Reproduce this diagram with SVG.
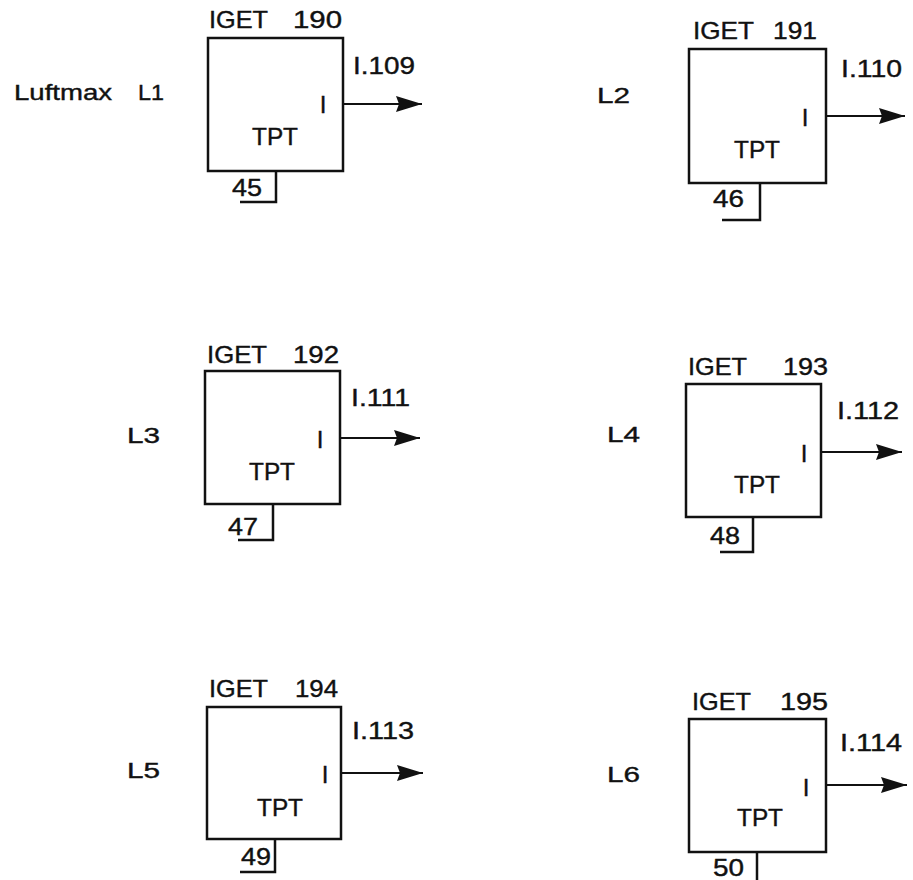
<svg xmlns="http://www.w3.org/2000/svg" width="913" height="880" viewBox="0 0 913 880">
<style>
text{font-family:"Liberation Sans",Arial,sans-serif;font-size:24px;fill:#111;stroke:#111;stroke-width:0.4}
.lab{font-size:22px}
.mid{text-anchor:middle}
.box{fill:none;stroke:#111;stroke-width:2.5}
.br{fill:none;stroke:#111;stroke-width:2.5}
.arr{fill:none;stroke:#111;stroke-width:2.2}
</style>
<defs>
<marker id="ah" viewBox="0 0 26 16" refX="26" refY="8" markerWidth="26" markerHeight="16" markerUnits="userSpaceOnUse" orient="auto">
<path d="M0,0 L26,8 L0,16 L3,8 z" fill="#111"/>
</marker>
</defs>
<rect width="913" height="880" fill="#fff"/>

<g id="node-190">
<rect class="box" x="208" y="38" width="135" height="133"/>
<path class="br" d="M276,171 V202 H240"/>
<text x="232" y="196" textLength="30" lengthAdjust="spacingAndGlyphs">45</text>
<text x="209" y="28" textLength="59" lengthAdjust="spacingAndGlyphs">IGET</text>
<text x="293" y="28" textLength="49" lengthAdjust="spacingAndGlyphs">190</text>
<text x="353" y="74" textLength="62" lengthAdjust="spacingAndGlyphs">I.109</text>
<text class="mid" x="323" y="113">I</text>
<text class="mid" x="275" y="145" textLength="46" lengthAdjust="spacingAndGlyphs">TPT</text>
<text class="lab" x="14" y="100"><tspan textLength="98" lengthAdjust="spacingAndGlyphs">Luftmax</tspan> <tspan x="138" textLength="26" lengthAdjust="spacingAndGlyphs">L1</tspan></text>
</g>

<g id="node-191">
<rect class="box" x="689" y="49" width="137" height="134"/>
<path class="br" d="M760,183 V220 H722"/>
<text x="713" y="207" textLength="31" lengthAdjust="spacingAndGlyphs">46</text>
<text x="693" y="39" textLength="61" lengthAdjust="spacingAndGlyphs">IGET</text>
<text x="773" y="39" textLength="44" lengthAdjust="spacingAndGlyphs">191</text>
<text x="841" y="77" textLength="61" lengthAdjust="spacingAndGlyphs">I.110</text>
<text class="mid" x="805" y="126">I</text>
<text class="mid" x="757" y="158" textLength="46" lengthAdjust="spacingAndGlyphs">TPT</text>
<text class="lab" x="597" y="103" textLength="33" lengthAdjust="spacingAndGlyphs">L2</text>
</g>

<g id="node-192">
<rect class="box" x="205" y="371" width="135" height="133"/>
<path class="br" d="M273,504 V540 H238"/>
<text x="228" y="535" textLength="30" lengthAdjust="spacingAndGlyphs">47</text>
<text x="207" y="363" textLength="60" lengthAdjust="spacingAndGlyphs">IGET</text>
<text x="293" y="363" textLength="46" lengthAdjust="spacingAndGlyphs">192</text>
<text x="351" y="406" textLength="59" lengthAdjust="spacingAndGlyphs">I.111</text>
<text class="mid" x="320" y="448">I</text>
<text class="mid" x="272" y="480" textLength="46" lengthAdjust="spacingAndGlyphs">TPT</text>
<text class="lab" x="127" y="443" textLength="33" lengthAdjust="spacingAndGlyphs">L3</text>
</g>

<g id="node-193">
<rect class="box" x="686" y="384" width="135" height="133"/>
<path class="br" d="M753,517 V552 H720"/>
<text x="710" y="544" textLength="30" lengthAdjust="spacingAndGlyphs">48</text>
<text x="688" y="375" textLength="59" lengthAdjust="spacingAndGlyphs">IGET</text>
<text x="783" y="375" textLength="45" lengthAdjust="spacingAndGlyphs">193</text>
<text x="837" y="419" textLength="62" lengthAdjust="spacingAndGlyphs">I.112</text>
<text class="mid" x="804" y="462">I</text>
<text class="mid" x="757" y="493" textLength="46" lengthAdjust="spacingAndGlyphs">TPT</text>
<text class="lab" x="607" y="442" textLength="33" lengthAdjust="spacingAndGlyphs">L4</text>
</g>

<g id="node-194">
<rect class="box" x="207" y="707" width="134" height="132"/>
<path class="br" d="M275,839 V872 H240"/>
<text x="241" y="865" textLength="30" lengthAdjust="spacingAndGlyphs">49</text>
<text x="209" y="697" textLength="59" lengthAdjust="spacingAndGlyphs">IGET</text>
<text x="295" y="697" textLength="43" lengthAdjust="spacingAndGlyphs">194</text>
<text x="352" y="739" textLength="62" lengthAdjust="spacingAndGlyphs">I.113</text>
<text class="mid" x="325" y="783">I</text>
<text class="mid" x="280" y="816" textLength="46" lengthAdjust="spacingAndGlyphs">TPT</text>
<text class="lab" x="127" y="778" textLength="33" lengthAdjust="spacingAndGlyphs">L5</text>
</g>

<g id="node-195">
<rect class="box" x="689" y="719" width="137" height="133"/>
<path class="br" d="M757,852 V880"/>
<text x="713" y="876" textLength="31" lengthAdjust="spacingAndGlyphs">50</text>
<text x="692" y="710" textLength="59" lengthAdjust="spacingAndGlyphs">IGET</text>
<text x="780" y="710" textLength="48" lengthAdjust="spacingAndGlyphs">195</text>
<text x="840" y="751" textLength="62" lengthAdjust="spacingAndGlyphs">I.114</text>
<text class="mid" x="806" y="796">I</text>
<text class="mid" x="760" y="826" textLength="46" lengthAdjust="spacingAndGlyphs">TPT</text>
<text class="lab" x="607" y="782" textLength="33" lengthAdjust="spacingAndGlyphs">L6</text>
</g>

<g id="connectors">
<line class="arr" x1="343" y1="104" x2="422" y2="104" marker-end="url(#ah)"/>
<line class="arr" x1="826" y1="116" x2="905" y2="116" marker-end="url(#ah)"/>
<line class="arr" x1="340" y1="438" x2="420" y2="438" marker-end="url(#ah)"/>
<line class="arr" x1="821" y1="452" x2="902" y2="452" marker-end="url(#ah)"/>
<line class="arr" x1="341" y1="773" x2="423" y2="773" marker-end="url(#ah)"/>
<line class="arr" x1="826" y1="785" x2="907" y2="785" marker-end="url(#ah)"/>
</g>
</svg>
